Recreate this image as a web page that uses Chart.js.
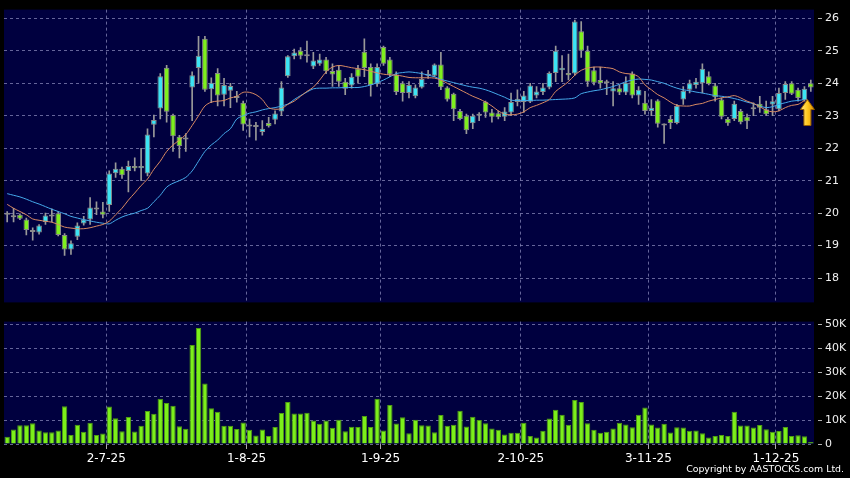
<!DOCTYPE html>
<html>
<head>
<meta charset="utf-8">
<script src="https://cdn.jsdelivr.net/npm/chart.js@4.4.1/dist/chart.umd.min.js"></script>
<style>
  html, body { margin: 0; padding: 0; background: #000; }
  #wrap { position: relative; width: 850px; height: 478px; background: #000; overflow: hidden; }
  canvas { position: absolute; left: 0; }
  #priceChart { top: 0; }
  #volChart { top: 312px; }
  #copy { position: absolute; right: 6px; top: 463px; color: #fff;
          font: 9.4px "DejaVu Sans", Verdana, sans-serif; white-space: nowrap; }
</style>
</head>
<body>
<div id="wrap">
  <canvas id="priceChart" width="850" height="312"></canvas>
  <canvas id="volChart" width="850" height="166"></canvas>
  <div id="copy">Copyright by AASTOCKS.com Ltd.</div>
</div>
<script>
// trading days, 9 Jun 2025 - 8 Dec 2025
const dates = [
  ...'9 10 11 12 13 16 17 18 19 20 23 24 25 26 27 30'.split(' ').map(d => d + '-6-25'),
  ...'2 3 4 7 8 9 10 11 14 15 16 17 18 21 22 23 24 25 28 29 30 31'.split(' ').map(d => d + '-7-25'),
  ...'1 4 5 6 7 8 11 12 13 14 15 18 19 20 21 22 25 26 27 28 29'.split(' ').map(d => d + '-8-25'),
  ...'1 2 3 4 5 8 9 10 11 12 15 16 17 18 19 22 23 24 25 26 29 30'.split(' ').map(d => d + '-9-25'),
  ...'2 3 6 8 9 10 13 14 15 16 17 20 21 22 23 24 27 28 30 31'.split(' ').map(d => d + '-10-25'),
  ...'3 4 5 6 7 10 11 12 13 14 17 18 19 20 21 24 25 26 27 28'.split(' ').map(d => d + '-11-25'),
  ...'1 2 3 4 5 8'.split(' ').map(d => d + '-12-25')
];
const tickDates = ['2-7-25', '1-8-25', '1-9-25', '2-10-25', '3-11-25', '1-12-25'];
const priceTicks = [18, 19, 20, 21, 22, 23, 24, 25, 26];
const volTicks = [0, 10, 20, 30, 40, 50];

const open = [
  19.95, 19.87, 19.95, 19.80, 19.47, 19.40, 19.73, 19.90, 20.00, 19.33,
  18.88, 19.27, 19.68, 19.80, 20.17, 20.05, 20.25, 21.23, 21.37, 21.30,
  21.45, 21.38, 21.22, 22.72, 23.22, 24.48, 23.02, 22.35, 22.27, 23.87,
  24.47, 25.37, 23.82, 24.32, 23.65, 23.77, 23.55, 23.40, 22.72, 22.65,
  22.50, 22.78, 22.88, 23.13, 24.22, 24.83, 25.00, 24.83, 24.52, 24.60,
  24.73, 24.38, 24.42, 24.05, 23.93, 24.45, 24.97, 24.50, 23.97, 25.12,
  24.73, 24.27, 24.00, 23.70, 23.60, 23.87, 24.28, 24.23, 24.58, 23.87,
  23.68, 23.15, 23.00, 22.77, 23.00, 23.43, 23.10, 23.08, 22.97, 23.10,
  23.42, 23.42, 23.43, 23.62, 23.73, 23.87, 24.32, 24.40, 24.32, 24.30,
  25.60, 25.00, 24.40, 24.10, 24.00, 23.75, 23.85, 23.72, 24.30, 23.62,
  23.40, 23.15, 23.47, 22.70, 22.90, 22.78, 23.50, 23.80, 23.95, 24.00,
  24.22, 23.93, 23.50, 22.90, 22.90, 23.15, 22.97, 23.20, 23.37, 23.20,
  23.35, 23.20, 23.70, 24.00, 23.80, 23.48, 24.00
];
const close = [
  19.95, 19.87, 19.83, 19.48, 19.42, 19.62, 19.93, 19.90, 19.33, 18.88,
  19.07, 19.62, 19.80, 20.17, 20.11, 19.95, 21.22, 21.37, 21.17, 21.45,
  21.38, 21.45, 22.42, 22.87, 24.22, 23.12, 22.37, 22.07, 22.27, 24.25,
  24.85, 23.80, 24.02, 23.62, 23.95, 23.92, 23.55, 22.73, 22.67, 22.65,
  22.60, 22.68, 23.07, 23.87, 24.83, 24.95, 24.85, 24.83, 24.70, 24.73,
  24.37, 24.27, 24.05, 23.83, 24.20, 24.20, 24.47, 23.95, 24.50, 24.60,
  24.27, 23.73, 23.70, 23.95, 23.87, 24.13, 24.23, 24.58, 23.88, 23.50,
  23.20, 22.90, 22.55, 23.00, 23.00, 23.10, 22.97, 22.95, 23.13, 23.42,
  23.52, 23.62, 23.93, 23.75, 23.87, 24.32, 25.00, 24.48, 24.25, 25.90,
  25.00, 24.05, 24.02, 24.00, 24.00, 23.85, 23.72, 24.02, 23.62, 23.80,
  23.15, 23.25, 22.75, 22.70, 22.78, 23.30, 23.77, 24.00, 24.05, 24.45,
  23.98, 23.57, 22.97, 22.77, 23.37, 22.80, 22.83, 23.20, 23.25, 23.05,
  23.45, 23.70, 23.98, 23.68, 23.55, 23.83, 23.87
];
const high = [
  20.05, 20.15, 19.98, 19.85, 19.55, 19.65, 20.00, 20.13, 20.05, 19.37,
  19.15, 19.70, 19.90, 20.48, 20.35, 20.33, 21.30, 21.55, 21.42, 21.60,
  21.70, 22.00, 22.60, 23.02, 24.30, 24.55, 23.05, 22.40, 22.45, 24.35,
  25.45, 25.45, 24.17, 24.45, 24.15, 24.00, 23.75, 23.45, 22.90, 22.80,
  22.85, 22.95, 23.15, 24.05, 24.85, 25.05, 25.10, 25.30, 24.95, 24.90,
  24.80, 24.60, 24.55, 24.15, 24.30, 24.55, 25.37, 24.60, 24.60, 25.15,
  24.80, 24.35, 24.05, 24.05, 23.95, 24.35, 24.40, 24.60, 24.95, 23.90,
  23.70, 23.20, 23.05, 23.05, 23.10, 23.45, 23.20, 23.15, 23.25, 23.70,
  23.80, 23.75, 24.00, 23.90, 24.00, 24.35, 25.15, 24.85, 24.90, 25.95,
  25.90, 25.15, 24.50, 24.50, 24.10, 24.05, 23.95, 24.20, 24.35, 23.90,
  23.75, 23.50, 23.50, 22.75, 23.00, 23.35, 23.90, 24.10, 24.15, 24.60,
  24.35, 24.00, 23.55, 22.95, 23.45, 23.20, 23.05, 23.40, 23.60, 23.45,
  23.60, 23.85, 24.05, 24.05, 23.85, 23.90, 24.10
];
const low = [
  19.73, 19.73, 19.80, 19.33, 19.17, 19.35, 19.65, 19.73, 19.30, 18.70,
  18.73, 19.18, 19.63, 19.65, 19.95, 19.85, 20.05, 21.10, 21.07, 20.65,
  21.30, 21.00, 21.15, 22.35, 22.90, 22.80, 21.90, 21.70, 21.90, 22.85,
  24.00, 23.75, 23.40, 23.30, 23.30, 23.25, 23.42, 22.55, 22.35, 22.25,
  22.40, 22.65, 22.75, 23.00, 24.18, 24.75, 24.75, 24.65, 24.45, 24.55,
  24.30, 23.90, 23.90, 23.65, 23.85, 24.00, 24.20, 23.60, 23.90, 24.55,
  24.20, 23.65, 23.45, 23.55, 23.55, 23.85, 24.15, 24.20, 23.80, 23.45,
  22.85, 22.87, 22.45, 22.60, 22.85, 22.95, 22.80, 22.90, 22.85, 23.00,
  23.30, 23.10, 23.40, 23.55, 23.65, 23.83, 24.05, 24.05, 24.10, 24.25,
  24.80, 23.90, 23.95, 23.85, 23.65, 23.30, 23.65, 23.65, 23.55, 23.35,
  23.05, 23.00, 22.65, 22.15, 22.60, 22.75, 23.35, 23.70, 23.85, 23.70,
  23.95, 23.45, 22.90, 22.70, 22.85, 22.75, 22.60, 23.00, 23.10, 23.00,
  23.00, 23.15, 23.50, 23.65, 23.45, 23.45, 23.75
];
// moving averages as drawn on the chart
const ma10 = [
  20.27, 20.15, 20.05, 19.95, 19.82, 19.78, 19.75, 19.72, 19.65, 19.57,
  19.54, 19.52, 19.52, 19.55, 19.60, 19.65, 19.75, 19.95, 20.15, 20.40,
  20.62, 20.85, 21.05, 21.35, 21.60, 21.90, 22.10, 22.25, 22.42, 22.70,
  23.00, 23.30, 23.42, 23.45, 23.47, 23.55, 23.60, 23.72, 23.72, 23.65,
  23.50, 23.25, 23.20, 23.22, 23.35, 23.45, 23.60, 23.75, 23.88, 24.10,
  24.35, 24.50, 24.55, 24.52, 24.48, 24.45, 24.42, 24.37, 24.32, 24.28,
  24.26, 24.25, 24.22, 24.18, 24.17, 24.17, 24.17, 24.16, 24.10, 24.00,
  23.90, 23.80, 23.70, 23.60, 23.52, 23.42, 23.30, 23.15, 23.05, 23.03,
  23.05, 23.12, 23.25, 23.32, 23.40, 23.50, 23.75, 23.90, 24.05, 24.25,
  24.40, 24.47, 24.50, 24.50, 24.48, 24.45, 24.35, 24.30, 24.28, 24.20,
  23.95, 23.80, 23.65, 23.55, 23.42, 23.32, 23.30, 23.30, 23.35, 23.38,
  23.45, 23.50, 23.55, 23.58, 23.62, 23.55, 23.45, 23.38, 23.28, 23.17,
  23.12, 23.15, 23.25, 23.32, 23.35, 23.47, null
];
const ma20 = [
  20.60, 20.55, 20.50, 20.43, 20.35, 20.28, 20.20, 20.12, 20.05, 19.98,
  19.90, 19.85, 19.80, 19.76, 19.72, 19.69, 19.67, 19.78, 19.88, 19.95,
  20.00, 20.08, 20.15, 20.35, 20.55, 20.80, 20.92, 21.00, 21.10, 21.30,
  21.60, 21.90, 22.10, 22.25, 22.45, 22.60, 22.90, 23.00, 23.08, 23.12,
  23.18, 23.22, 23.25, 23.30, 23.36, 23.50, 23.62, 23.73, 23.83, 23.85,
  23.85, 23.86, 23.86, 23.87, 23.87, 23.87, 23.90, 23.95, 24.02, 24.10,
  24.20, 24.30, 24.33, 24.35, 24.33, 24.30, 24.25, 24.20, 24.12, 24.07,
  24.02, 23.97, 23.92, 23.88, 23.85, 23.80, 23.73, 23.65, 23.57, 23.48,
  23.47, 23.47, 23.47, 23.48, 23.48, 23.49, 23.50, 23.51, 23.52, 23.55,
  23.68, 23.73, 23.77, 23.80, 23.85, 23.90, 23.97, 24.05, 24.10, 24.13,
  24.12, 24.10, 24.05, 24.00, 23.92, 23.85, 23.80, 23.77, 23.73, 23.70,
  23.66, 23.62, 23.60, 23.57, 23.53, 23.48, 23.42, 23.37, 23.30, 23.25,
  23.28, 23.35, 23.40, 23.45, 23.47, 23.50, null
];
// volume in thousands of shares
const volume = [
  3.0, 6.1, 7.8, 7.8, 8.7, 5.7, 4.9, 4.9, 5.7, 15.8,
  3.8, 8.1, 5.1, 8.9, 3.8, 4.4, 15.7, 10.8, 5.3, 11.3,
  5.2, 7.6, 13.8, 12.7, 18.9, 17.2, 16.0, 7.4, 6.4, 41.4,
  48.6, 25.3, 15.0, 13.5, 7.6, 7.6, 6.3, 9.0, 6.0, 3.6,
  6.1, 3.4, 7.1, 13.0, 17.6, 12.8, 12.8, 13.1, 9.8, 8.5,
  9.8, 6.8, 10.2, 5.3, 7.2, 7.1, 11.7, 7.1, 18.9, 5.7,
  16.3, 8.6, 11.2, 4.5, 10.2, 7.8, 7.7, 4.9, 12.1, 7.6,
  8.1, 13.9, 7.3, 11.4, 10.0, 8.7, 6.5, 6.0, 4.0, 4.7,
  4.7, 8.9, 3.3, 2.7, 5.5, 10.7, 14.3, 12.2, 8.1, 18.4,
  17.6, 8.7, 6.0, 4.7, 5.1, 6.5, 8.9, 8.2, 7.0, 12.2,
  15.3, 8.2, 6.9, 8.5, 4.8, 7.0, 6.9, 5.5, 5.6, 4.5,
  2.7, 3.3, 3.8, 3.4, 13.5, 7.7, 7.7, 6.9, 8.0, 6.2,
  5.1, 5.4, 7.1, 3.4, 3.7, 3.2, 0.8
];
const arrowIndex = 125;
const arrowTip = 23.5;

const UP = '#3ce4f4', DOWN = '#7fef1e', FLAT = '#9a9a9a';
const GRID = 'rgba(135,135,185,0.75)';
const FONT = '"DejaVu Sans", Verdana, sans-serif';

const bodyColor = open.map((o, i) => close[i] > o ? UP : close[i] < o ? DOWN : FLAT);
const isTick = i => tickDates.includes(dates[i]);

const panelBg = {
  id: 'panelBg',
  beforeDraw(chart) {
    const { ctx, chartArea: a } = chart;
    ctx.save();
    ctx.fillStyle = '#00003f';
    ctx.fillRect(a.left, a.top, a.right - a.left, a.bottom - a.top);
    ctx.restore();
  }
};

const upArrow = {
  id: 'upArrow',
  afterDatasetsDraw(chart) {
    const { ctx, scales } = chart;
    const x = scales.x.getPixelForValue(arrowIndex) + 3;
    const y = scales.y.getPixelForValue(arrowTip);
    const g = ctx.createLinearGradient(x - 7, 0, x + 7, 0);
    g.addColorStop(0, '#ffe98a');
    g.addColorStop(0.5, '#ffc81e');
    g.addColorStop(1, '#d98e00');
    ctx.save();
    ctx.beginPath();
    ctx.moveTo(x, y);
    ctx.lineTo(x + 7, y + 10);
    ctx.lineTo(x + 3.5, y + 10);
    ctx.lineTo(x + 3.5, y + 26);
    ctx.lineTo(x - 3.5, y + 26);
    ctx.lineTo(x - 3.5, y + 10);
    ctx.lineTo(x - 7, y + 10);
    ctx.closePath();
    ctx.fillStyle = g;
    ctx.fill();
    ctx.strokeStyle = '#9a6200';
    ctx.lineWidth = 1;
    ctx.stroke();
    ctx.restore();
  }
};

const xGrid = {
  offset: true,
  color: c => isTick(c.index) ? GRID : 'rgba(0,0,0,0)',
  tickColor: c => isTick(c.index) ? '#aaaaaa' : 'rgba(0,0,0,0)'
};

const priceChart = new Chart(document.getElementById('priceChart').getContext('2d'), {
  type: 'bar',
  data: {
    labels: dates,
    datasets: [
      {
        type: 'line', label: 'MA10', data: ma10, order: 0,
        borderColor: '#d98a62', borderWidth: 1, pointRadius: 0, tension: 0.3
      },
      {
        type: 'line', label: 'MA20', data: ma20, order: 0,
        borderColor: '#45a9ea', borderWidth: 1, pointRadius: 0, tension: 0.3
      },
      {
        label: 'body', order: 1, grouped: false,
        data: open.map((o, i) => [o, close[i]]),
        backgroundColor: bodyColor,
        borderColor: '#8a8a8a', borderWidth: 1, borderSkipped: false,
        barPercentage: 0.88, categoryPercentage: 1, minBarLength: 2
      },
      {
        label: 'wick', order: 2, grouped: false,
        data: low.map((l, i) => [l, high[i]]),
        backgroundColor: '#999999', barThickness: 1
      }
    ]
  },
  options: {
    responsive: false,
    animation: false,
    layout: { padding: { left: 4, top: 6, right: 0, bottom: 6 } },
    plugins: { legend: { display: false }, tooltip: { enabled: false } },
    scales: {
      x: {
        offset: true,
        grid: { ...xGrid, drawTicks: false },
        border: { display: false, dash: [3, 3] },
        ticks: { display: false, autoSkip: false },
        afterFit: s => { s.height = 0; }
      },
      y: {
        position: 'right',
        min: 17.25,
        max: 26.27,
        afterBuildTicks: s => { s.ticks = priceTicks.map(v => ({ value: v })); },
        grid: { color: GRID, tickColor: '#b0b0b0', tickLength: 8, tickBorderDash: [0, 4, 4, 0] },
        border: { display: false, dash: [3, 3] },
        ticks: { color: '#f0f0f0', padding: 3, font: { family: FONT, size: 11 } },
        afterFit: s => { s.width = 36; }
      }
    }
  },
  plugins: [panelBg, upArrow]
});

const volChart = new Chart(document.getElementById('volChart').getContext('2d'), {
  type: 'bar',
  data: {
    labels: dates,
    datasets: [{
      label: 'Volume',
      data: volume,
      backgroundColor: '#7cef1a',
      borderColor: '#4f9d12',
      borderWidth: 1,
      borderSkipped: 'bottom',
      barPercentage: 0.84,
      categoryPercentage: 1
    }]
  },
  options: {
    responsive: false,
    animation: false,
    layout: { padding: { left: 4, top: 7, right: 0, bottom: 0 } },
    plugins: { legend: { display: false }, tooltip: { enabled: false } },
    scales: {
      x: {
        offset: true,
        grid: { ...xGrid, tickLength: 5 },
        border: { display: false, dash: [3, 3] },
        ticks: {
          color: '#ffffff', autoSkip: false, maxRotation: 0, padding: 3, labelOffset: -3,
          font: { family: FONT, size: 12 },
          callback: (v, i) => isTick(i) ? dates[i] : ''
        },
        afterFit: s => { s.height = 34; }
      },
      y: {
        position: 'right',
        min: 0,
        max: 51.23,
        afterBuildTicks: s => { s.ticks = volTicks.map(v => ({ value: v })); },
        grid: { color: GRID, tickColor: '#b0b0b0', tickLength: 8, tickBorderDash: [0, 4, 4, 0] },
        border: { display: false, dash: [3, 3] },
        ticks: {
          color: '#f0f0f0', padding: 3, font: { family: FONT, size: 11 },
          callback: v => v === 0 ? '0' : v + 'K'
        },
        afterFit: s => { s.width = 36; }
      }
    }
  },
  plugins: [panelBg]
});
</script>
</body>
</html>
